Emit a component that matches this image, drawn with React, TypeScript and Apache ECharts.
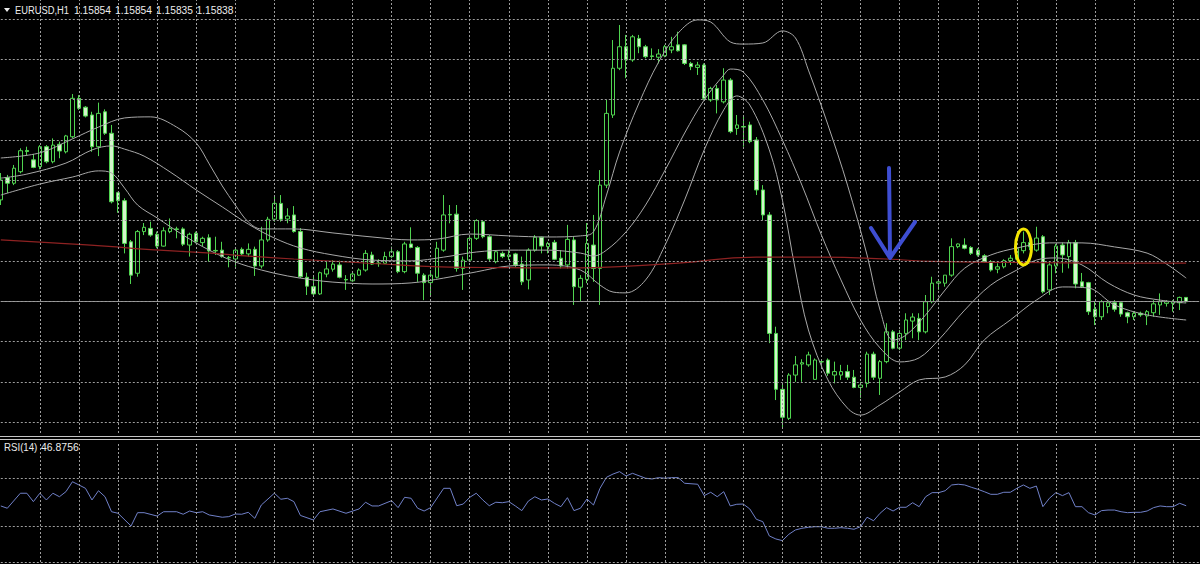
import React, { useEffect, useRef } from "react";
import * as echarts from "echarts";

// ---------- text ----------
const symbolName = "EURUSD,H1";
const headerQuote = ["1.15854", "1.15854", "1.15835", "1.15838"];
const rsiName = "RSI(14)";
const rsiLast = "46.8756";

// ---------- bars (first entry is bar -1, partially cut at the left edge) ----------
const firstBar = -1;
const open = [1.16217,
  1.16300,1.16279,1.16322,1.16401,1.16366,1.16341,1.16415,1.16359,1.16424,1.16396,
  1.16452,1.16595,1.16562,1.16533,1.16415,1.16545,1.16465,1.16244,1.16214,1.16061,
  1.15944,1.16099,1.16111,1.16089,1.16045,1.16099,1.16109,1.16109,1.16049,1.16093,
  1.16058,1.16076,1.16029,1.16030,1.16003,1.15997,1.16033,1.16016,1.16033,1.15971,
  1.16068,1.16145,1.16204,1.16146,1.16161,1.16099,1.15929,1.15894,1.15867,1.15941,
  1.15959,1.15975,1.15921,1.15916,1.15937,1.15956,1.16012,1.15982,1.15981,1.16006,
  1.16024,1.15950,1.16053,1.16040,1.15937,1.15909,1.15929,1.16030,1.16163,1.16164,
  1.15962,1.15993,1.16074,1.16136,1.16080,1.15987,1.16018,1.16006,1.16016,1.15978,
  1.15919,1.16030,1.16078,1.16043,1.16059,1.16000,1.15975,1.16068,1.15892,1.15921,
  1.16049,1.15962,1.16272,1.16533,1.16707,1.16787,1.16738,1.16818,1.16787,1.16753,
  1.16748,1.16753,1.16775,1.16794,1.16794,1.16725,1.16710,1.16719,1.16589,1.16632,
  1.16582,1.16663,1.16483,1.16490,1.16496,1.16440,1.16254,1.16161,1.15720,1.15512,
  1.15404,1.15565,1.15606,1.15603,1.15549,1.15615,1.15621,1.15565,1.15565,1.15578,
  1.15557,1.15519,1.15534,1.15643,1.15553,1.15615,1.15726,1.15665,1.15720,1.15766,
  1.15776,1.15726,1.15838,1.15907,1.15907,1.15937,1.16043,1.16049,1.16040,1.16030,
  1.16009,1.15987,1.15959,1.15968,1.15991,1.15996,1.16028,1.16058,1.16030,1.16080,
  1.15882,1.15971,1.16049,1.16006,1.16058,1.15912,1.15909,1.15810,1.15782,1.15820,
  1.15834,1.15834,1.15797,1.15782,1.15795,1.15785,1.15797,1.15826,1.15832,1.15832,
  1.15834,1.15854];
const high = [1.16317,
  1.16310,1.16347,1.16409,1.16415,1.16388,1.16421,1.16421,1.16446,1.16434,1.16459,
  1.16611,1.16607,1.16566,1.16545,1.16579,1.16554,1.16496,1.16247,1.16223,1.16068,
  1.16105,1.16131,1.16136,1.16099,1.16115,1.16148,1.16117,1.16115,1.16095,1.16099,
  1.16080,1.16089,1.16080,1.16061,1.16008,1.16037,1.16040,1.16055,1.16043,1.16117,
  1.16154,1.16235,1.16235,1.16186,1.16194,1.16112,1.15946,1.15931,1.15950,1.15987,
  1.15993,1.15991,1.15937,1.15946,1.15962,1.16030,1.16024,1.15996,1.16024,1.16043,
  1.16030,1.16061,1.16115,1.16045,1.15944,1.15956,1.16061,1.16235,1.16198,1.16198,
  1.16006,1.16080,1.16145,1.16142,1.16086,1.16030,1.16025,1.16030,1.16020,1.16006,
  1.16037,1.16086,1.16080,1.16061,1.16068,1.16030,1.16124,1.16080,1.15937,1.16131,
  1.16161,1.16328,1.16589,1.16812,1.16868,1.16831,1.16831,1.16831,1.16794,1.16781,
  1.16778,1.16794,1.16824,1.16843,1.16797,1.16731,1.16731,1.16725,1.16638,1.16645,
  1.16707,1.16670,1.16533,1.16533,1.16508,1.16451,1.16272,1.16172,1.15745,1.15528,
  1.15572,1.15636,1.15624,1.15652,1.15627,1.15621,1.15627,1.15615,1.15603,1.15603,
  1.15584,1.15540,1.15652,1.15652,1.15621,1.15758,1.15733,1.15733,1.15795,1.15795,
  1.15795,1.15863,1.15931,1.15919,1.15937,1.16074,1.16055,1.16074,1.16045,1.16037,
  1.16015,1.15993,1.15981,1.15996,1.16012,1.16061,1.16099,1.16083,1.16117,1.16086,
  1.15987,1.16053,1.16058,1.16068,1.16068,1.15945,1.15912,1.15838,1.15844,1.15844,
  1.15844,1.15838,1.15801,1.15801,1.15801,1.15807,1.15844,1.15869,1.15844,1.15844,
  1.15857,1.15854];
const low = [1.16198,
  1.16243,1.16272,1.16316,1.16384,1.16335,1.16331,1.16353,1.16353,1.16372,1.16390,
  1.16446,1.16552,1.16524,1.16396,1.16380,1.16459,1.16204,1.16169,1.16018,1.15904,
  1.15931,1.16086,1.16080,1.16037,1.16043,1.16093,1.16074,1.16045,1.16006,1.16055,
  1.16043,1.15987,1.16012,1.16002,1.15966,1.15968,1.16008,1.16006,1.15934,1.15962,
  1.16061,1.16136,1.16136,1.16130,1.16095,1.15926,1.15863,1.15857,1.15863,1.15929,
  1.15950,1.15925,1.15882,1.15912,1.15934,1.15950,1.15975,1.15968,1.15978,1.16000,
  1.15944,1.15944,1.16037,1.15912,1.15844,1.15857,1.15925,1.16024,1.16130,1.15950,
  1.15882,1.15987,1.16068,1.16074,1.15987,1.15981,1.16000,1.15993,1.15968,1.15900,
  1.15884,1.16024,1.16018,1.16018,1.15993,1.15962,1.15962,1.15826,1.15838,1.15907,
  1.15912,1.15826,1.16261,1.16522,1.16700,1.16670,1.16731,1.16763,1.16744,1.16738,
  1.16725,1.16748,1.16763,1.16769,1.16719,1.16700,1.16682,1.16589,1.16582,1.16539,
  1.16576,1.16465,1.16459,1.16415,1.16428,1.16235,1.16142,1.15684,1.15472,1.15367,
  1.15398,1.15540,1.15540,1.15596,1.15547,1.15596,1.15562,1.15534,1.15547,1.15547,
  1.15516,1.15479,1.15519,1.15547,1.15491,1.15609,1.15661,1.15658,1.15695,1.15702,
  1.15695,1.15720,1.15832,1.15882,1.15894,1.15931,1.16037,1.16033,1.16012,1.16006,
  1.15983,1.15950,1.15944,1.15962,1.15975,1.15993,1.16018,1.16030,1.16024,1.15869,
  1.15863,1.15944,1.15946,1.15962,1.15888,1.15889,1.15789,1.15751,1.15770,1.15795,
  1.15801,1.15782,1.15758,1.15770,1.15782,1.15751,1.15782,1.15789,1.15820,1.15801,
  1.15807,1.15835];
const close = [1.16291,
  1.16279,1.16335,1.16400,1.16397,1.16338,1.16415,1.16359,1.16421,1.16399,1.16455,
  1.16595,1.16558,1.16529,1.16415,1.16539,1.16465,1.16210,1.16214,1.16055,1.15937,
  1.16099,1.16115,1.16086,1.16045,1.16102,1.16111,1.16107,1.16052,1.16089,1.16061,
  1.16074,1.16027,1.16027,1.16006,1.16001,1.16030,1.16016,1.16033,1.15971,1.16068,
  1.16145,1.16204,1.16145,1.16157,1.16099,1.15931,1.15896,1.15867,1.15946,1.15960,
  1.15978,1.15929,1.15919,1.15941,1.15956,1.16018,1.15978,1.15980,1.16006,1.16024,
  1.15950,1.16053,1.16040,1.15944,1.15909,1.15937,1.16037,1.16161,1.16161,1.15962,
  1.15993,1.16074,1.16140,1.16080,1.15997,1.16024,1.16006,1.16012,1.15975,1.15912,
  1.16030,1.16078,1.16045,1.16055,1.15996,1.15971,1.16070,1.15894,1.15925,1.16055,
  1.15962,1.16272,1.16539,1.16707,1.16787,1.16738,1.16824,1.16787,1.16750,1.16751,
  1.16760,1.16787,1.16787,1.16772,1.16725,1.16713,1.16719,1.16595,1.16632,1.16589,
  1.16663,1.16471,1.16496,1.16488,1.16434,1.16254,1.16161,1.15720,1.15512,1.15408,
  1.15565,1.15603,1.15611,1.15640,1.15621,1.15614,1.15572,1.15578,1.15578,1.15557,
  1.15519,1.15528,1.15643,1.15557,1.15615,1.15726,1.15665,1.15720,1.15770,1.15781,
  1.15726,1.15838,1.15907,1.15912,1.15937,1.16043,1.16053,1.16037,1.16018,1.16012,
  1.15987,1.15956,1.15968,1.15991,1.16000,1.16037,1.16058,1.16042,1.16075,1.15875,
  1.15975,1.16045,1.16012,1.16058,1.15904,1.15894,1.15801,1.15782,1.15838,1.15834,
  1.15810,1.15792,1.15782,1.15795,1.15789,1.15801,1.15830,1.15838,1.15838,1.15838,
  1.15854,1.15838];

// ---------- indicators: [bar index, value] ----------
const bandUpper: [number, number][] = [
  [-1,1.16373],[5,1.16392],[10,1.16444],[14,1.16488],[18,1.16522],[22,1.16526],[26,1.16488],[29,1.16429],
  [31,1.16351],[33,1.16269],[35,1.16198],[37,1.16135],[39,1.16109],[44,1.16109],[50,1.16094],[56,1.16079],
  [62,1.16068],[66,1.16071],[71,1.16090],[77,1.16083],[83,1.16079],[88,1.16083],[90,1.16098],[92,1.16235],
  [94,1.16395],[97,1.16578],[100,1.16730],[103,1.16838],[106,1.16887],[108,1.16879],[111,1.16805],[113,1.16797],
  [116,1.16801],[119,1.16846],[121,1.16820],[123,1.16700],[126,1.16496],[129,1.16272],[132,1.16012],[134,1.15807],
  [136,1.15695],[138,1.15714],[141,1.15789],[144,1.15882],[147,1.15963],[151,1.16012],[155,1.16038],[160,1.16057],
  [165,1.16057],[170,1.16042],[175,1.16019],[178,1.15978],[181,1.15926]];
const bandMiddle: [number, number][] = [
  [-1,1.16298],[3,1.16313],[9,1.16354],[13,1.16403],[16,1.16418],[18,1.16406],[21,1.16380],[25,1.16321],
  [29,1.16254],[33,1.16191],[37,1.16127],[41,1.16075],[45,1.16038],[50,1.16012],[56,1.15993],[62,1.15990],
  [67,1.16004],[72,1.16023],[77,1.16030],[83,1.16030],[88,1.16019],[90,1.16008],[92,1.16030],[95,1.16098],
  [98,1.16198],[101,1.16328],[104,1.16466],[107,1.16589],[110,1.16682],[111,1.16704],[113,1.16693],[116,1.16589],
  [119,1.16440],[122,1.16272],[125,1.16086],[128,1.15919],[131,1.15770],[134,1.15666],[137,1.15614],[140,1.15629],
  [143,1.15696],[147,1.15807],[151,1.15900],[155,1.15956],[158,1.15993],[161,1.16001],[165,1.15975],[169,1.15908],
  [173,1.15863],[177,1.15844],[181,1.15833]];
const bandLower: [number, number][] = [
  [-1,1.16235],[5,1.16276],[10,1.16302],[14,1.16325],[16,1.16317],[18,1.16261],[20,1.16198],[23,1.16150],
  [27,1.16086],[31,1.16030],[35,1.15986],[39,1.15956],[43,1.15934],[47,1.15919],[50,1.15911],[56,1.15904],
  [62,1.15908],[67,1.15926],[72,1.15949],[77,1.15971],[83,1.15975],[88,1.15956],[91,1.15900],[93,1.15874],
  [95,1.15871],[98,1.15919],[101,1.16049],[104,1.16217],[107,1.16403],[110,1.16552],[112,1.16604],[114,1.16570],
  [117,1.16403],[119,1.16217],[121,1.15956],[123,1.15733],[126,1.15547],[129,1.15442],[131,1.15416],[134,1.15454],
  [137,1.15502],[140,1.15547],[144,1.15558],[147,1.15603],[150,1.15696],[154,1.15770],[158,1.15844],[162,1.15893],
  [166,1.15889],[170,1.15826],[175,1.15789],[181,1.15770]];
const movingAverage: [number, number][] = [
  [-1,1.16068],[7,1.16057],[15,1.16045],[22,1.16032],[30,1.16021],[37,1.16008],[44,1.15997],[52,1.15986],
  [60,1.15975],[68,1.15967],[76,1.15965],[84,1.15964],[88,1.15964],[94,1.15969],[103,1.15982],[115,1.16004],
  [125,1.16004],[135,1.15997],[142,1.15988],[155,1.15984],[170,1.15982],[181,1.15982]];
const rsi: [number, number][] = [
  [-1,46.7],[0,44.8],[2,57.3],[3,57.3],[4,50.3],[5,57.3],[6,51.7],[7,57.3],[8,54.4],[9,58.6],
  [10,66.9],[11,64.2],[12,61.4],[13,51.7],[14,59.4],[15,54.4],[16,41.9],[17,40.6],[19,30.0],[20,41.1],
  [21,41.1],[23,38.3],[24,41.9],[26,41.9],[27,39.8],[28,42.5],[29,41.1],[30,41.9],[31,39.2],[33,37.3],
  [34,37.8],[35,40.0],[36,39.8],[37,41.4],[38,36.4],[39,47.5],[41,57.3],[42,52.3],[43,53.1],[44,50.3],
  [45,38.8],[47,35.0],[48,41.9],[50,44.2],[52,40.6],[54,44.2],[55,49.8],[56,46.7],[57,46.7],[59,51.1],
  [60,45.3],[61,53.9],[62,53.1],[63,44.8],[64,42.5],[65,45.3],[67,61.4],[68,61.4],[69,46.9],[70,48.3],
  [71,53.9],[72,57.3],[73,51.7],[74,46.9],[75,49.8],[76,49.4],[77,50.3],[78,46.7],[79,42.8],[80,50.8],
  [81,54.4],[82,51.7],[83,52.5],[84,48.9],[85,46.1],[86,53.6],[87,42.8],[88,44.8],[89,52.5],[90,47.5],
  [91,61.4],[92,70.6],[93,73.3],[94,75.3],[95,71.7],[96,73.9],[98,69.8],[99,69.2],[100,70.3],[101,69.8],
  [102,70.3],[103,70.3],[104,65.6],[106,64.8],[107,55.3],[108,58.1],[109,54.4],[110,58.6],[111,46.7],[112,48.1],
  [113,48.3],[114,44.2],[115,35.6],[116,33.6],[117,21.7],[118,19.2],[119,17.8],[120,23.1],[121,26.7],[122,28.1],
  [123,28.9],[124,29.4],[125,29.4],[126,28.1],[127,28.1],[128,28.6],[129,28.1],[130,27.3],[131,29.4],[132,37.3],
  [133,34.4],[134,40.6],[135,45.3],[136,42.5],[137,45.6],[138,45.6],[139,49.4],[140,46.1],[141,54.4],[142,57.8],
  [143,57.8],[144,59.4],[145,64.2],[146,64.8],[147,64.2],[148,62.3],[149,60.6],[150,58.6],[151,56.4],[152,56.4],
  [153,58.1],[154,58.1],[155,61.4],[156,64.2],[157,61.4],[158,63.3],[159,46.1],[160,53.1],[161,57.8],[162,55.3],
  [163,57.8],[164,46.1],[165,46.1],[166,41.1],[167,39.2],[168,42.8],[169,43.3],[170,43.3],[171,41.9],[172,41.1],
  [173,41.4],[174,41.4],[175,42.5],[176,45.3],[177,46.7],[178,46.1],[179,46.1],[180,48.9],[181,46.8756]];

// ---------- levels ----------
const priceLevels = [1.1539, 1.1554, 1.1569, 1.1584, 1.1599, 1.1614, 1.1629, 1.1644, 1.1659, 1.1674, 1.1689];
const bidPrice = 1.15838;
const rsiLevels = [0, 30, 70];
const priceMin = 1.153494;
const priceMax = 1.16961;
const timeGridBars = [5, 11, 17, 23, 29, 35, 41, 47, 53, 59, 65, 71, 77, 83, 89, 95, 101, 107, 113, 119,
  125, 131, 137, 143, 149, 155, 161, 167, 173, 179];

// ---------- layout / style ----------
const W = 1200;
const H = 564;
const gridLeft = 0.8;
const gridWidth = 1198.4;
const mainTop = 0;
const mainHeight = 433;
const rsiTop = 442;
const rsiHeight = 120;
const extraSlots = 2;
const gridColor = "#9d9d9d";
const textColor = "#ececec";
const font = "'Liberation Sans', Arial, sans-serif";

const nCats = open.length + extraSlots;
const categories = Array.from({ length: nCats }, (_, k) => String(k + firstBar));
const toCat = (bar: number) => bar - firstBar;
const lineData = (pts: [number, number][]) => pts.map(([b, v]) => [toCat(b), v]);

function gridSeries(axis: number, hLevels: any[]): any {
  return {
    type: "line",
    xAxisIndex: axis,
    yAxisIndex: axis,
    z: 1,
    data: [],
    silent: true,
    markLine: {
      silent: true,
      precision: 6,
      symbol: ["none", "none"],
      label: { show: false },
      emphasis: { disabled: true },
      lineStyle: { color: gridColor, type: [2, 2], width: 1 },
      data: [...hLevels, ...timeGridBars.map((b) => ({ xAxis: toCat(b) }))],
    },
  };
}

function buildOption(): any {
  const xAxis = [0, 1].map((g) => ({
    type: "category",
    gridIndex: g,
    data: categories,
    boundaryGap: false,
    show: false,
  }));
  return {
    animation: false,
    backgroundColor: "#000000",
    grid: [
      { left: gridLeft, width: gridWidth, top: mainTop, height: mainHeight, show: false },
      { left: gridLeft, width: gridWidth, top: rsiTop, height: rsiHeight, show: false },
    ],
    xAxis,
    yAxis: [
      { type: "value", gridIndex: 0, min: priceMin, max: priceMax, show: false },
      { type: "value", gridIndex: 1, min: 0, max: 100, show: false },
    ],
    series: [
      gridSeries(0, [
        { yAxis: bidPrice, lineStyle: { color: "#8c8c8c", type: "solid", width: 1 } },
        ...priceLevels.map((v) => ({ yAxis: v })),
      ]),
      gridSeries(1, rsiLevels.map((v) => ({ yAxis: v }))),
      {
        type: "candlestick",
        xAxisIndex: 0,
        yAxisIndex: 0,
        z: 3,
        barWidth: 4,
        silent: true,
        data: open.map((o, k) => [o, close[k], low[k], high[k]]),
        itemStyle: {
          color: "#000000",
          color0: "#d3f5cb",
          borderColor: "#50d450",
          borderColor0: "#50d450",
          borderWidth: 1,
        },
      },
      ...[bandUpper, bandMiddle, bandLower].map((b) => ({
        type: "line",
        xAxisIndex: 0,
        yAxisIndex: 0,
        z: 4,
        silent: true,
        symbol: "none",
        smooth: 0.35,
        data: lineData(b),
        lineStyle: { color: "#a8a8a8", width: 1 },
      })),
      {
        type: "line",
        xAxisIndex: 0,
        yAxisIndex: 0,
        z: 4,
        silent: true,
        symbol: "none",
        smooth: 0.5,
        data: lineData(movingAverage),
        lineStyle: { color: "#8e2222", width: 1.2 },
      },
      {
        type: "line",
        xAxisIndex: 1,
        yAxisIndex: 1,
        z: 4,
        silent: true,
        symbol: "none",
        data: lineData(rsi),
        lineStyle: { color: "#7080c8", width: 1 },
      },
    ],
    graphic: [
      { type: "line", z: 50, shape: { x1: 0, y1: 436.5, x2: W, y2: 436.5 }, style: { stroke: "#c4c4c4", lineWidth: 1 } },
      { type: "line", z: 50, shape: { x1: 0, y1: 439.5, x2: W, y2: 439.5 }, style: { stroke: "#c4c4c4", lineWidth: 1 } },
      { type: "polygon", z: 60, shape: { points: [[4, 8], [10, 8], [7, 12]] }, style: { fill: textColor } },
      { type: "text", z: 60, x: 15, y: 10, scaleX: 0.85, style: { text: symbolName, fill: textColor, font: `11px ${font}`, verticalAlign: "middle" } },
      ...headerQuote.map((q, k) => ({
        type: "text", z: 60, x: [74, 115, 156, 196.5][k], y: 10, scaleX: 0.93,
        style: { text: q, fill: textColor, font: `11px ${font}`, verticalAlign: "middle" },
      })),
      { type: "text", z: 60, x: 4, y: 447, scaleX: 0.88, style: { text: rsiName, fill: textColor, font: `11px ${font}`, verticalAlign: "middle" } },
      { type: "text", z: 60, x: 41, y: 447, scaleX: 0.95, style: { text: rsiLast, fill: textColor, font: `11px ${font}`, verticalAlign: "middle" } },
      { type: "polyline", z: 70, shape: { points: [[889, 168], [889.5, 210], [890, 256]] }, style: { stroke: "#3e4ed2", lineWidth: 4, lineCap: "round", lineJoin: "round", fill: "none" } },
      { type: "polyline", z: 70, shape: { points: [[871, 228], [890, 258], [915, 222]] }, style: { stroke: "#3e4ed2", lineWidth: 4, lineCap: "round", lineJoin: "round", fill: "none" } },
      { type: "ellipse", z: 70, shape: { cx: 1023.5, cy: 247, rx: 8, ry: 18 }, style: { stroke: "#f2e400", lineWidth: 3, fill: "none" } },
    ],
  };
}

export default function App() {
  const ref = useRef<HTMLDivElement>(null);
  useEffect(() => {
    if (!ref.current) return;
    const chart = echarts.init(ref.current, null, { renderer: "svg" });
    chart.setOption(buildOption());
    return () => chart.dispose();
  }, []);
  return (
    <div
      ref={ref}
      style={{ position: "fixed", left: 0, top: 0, width: W, height: H, background: "#000" }}
    />
  );
}
